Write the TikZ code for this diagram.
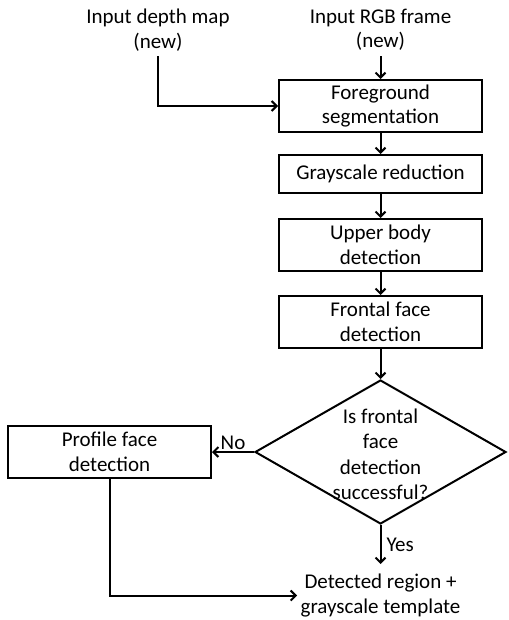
\documentclass[tikz,border=0pt]{standalone}
\usepackage{fontspec}
\setmainfont{Carlito}
\usepackage{tikz}
\usetikzlibrary{positioning,shapes.geometric,arrows.meta}

\begin{document}
\begin{tikzpicture}[
    x=1pt, y=1pt,
    font=\fontsize{21}{24.5}\selectfont,
    box/.style={draw, line width=2pt, align=center, minimum height=52pt, minimum width=203pt, inner ysep=3pt},
    decision/.style={draw, diamond, line width=2pt, minimum width=251pt, minimum height=144pt, inner sep=0pt},
    txt/.style={align=center, inner ysep=5pt},
    arrow/.style={-{Straight Barb[length=5pt,width=10pt]}, line width=2pt}
  ]
    \useasboundingbox (0,0) rectangle (508,-620);
    \node[txt] (depth) at (158,-30) {Input depth map\\(new)};
    \node[txt] (rgb) at (380.5,-30) {Input RGB frame\\(new)};
    \node[box] (fg) at (380.5,-106) {Foreground\\segmentation};
    \node[box, minimum height=38pt, below=21pt of fg] (gray) {Grayscale reduction};
    \node[box, below=24pt of gray] (upper) {Upper body\\detection};
    \node[box, below=23pt of upper] (frontal) {Frontal face\\detection};
    \node[decision, below=30pt of frontal,
      label={[align=center, yshift=-2.5pt, font=\fontsize{21}{25.5}\selectfont]center:Is frontal\\face\\detection\\successful?}] (dec) {};
    \node[box, left=42pt of dec] (profile) {Profile face\\detection};
    \node[txt, inner ysep=10pt, below=39pt of dec] (result) {Detected region +\\grayscale template};
    \draw[arrow] (depth.south) |- (fg.west);
    \draw[arrow] (rgb) -- (fg);
    \draw[arrow] (fg) -- (gray);
    \draw[arrow] (gray) -- (upper);
    \draw[arrow] (upper) -- (frontal);
    \draw[arrow] (frontal) -- (dec);
    \draw[arrow] (dec.west) -- node[above, inner sep=1pt] {No} (profile.east);
    \draw[arrow] (dec.south) -- node[right, inner sep=5pt] {Yes} (result.north);
    \draw[arrow] (profile.south) |- (result.west);
  \end{tikzpicture}
\end{document}
